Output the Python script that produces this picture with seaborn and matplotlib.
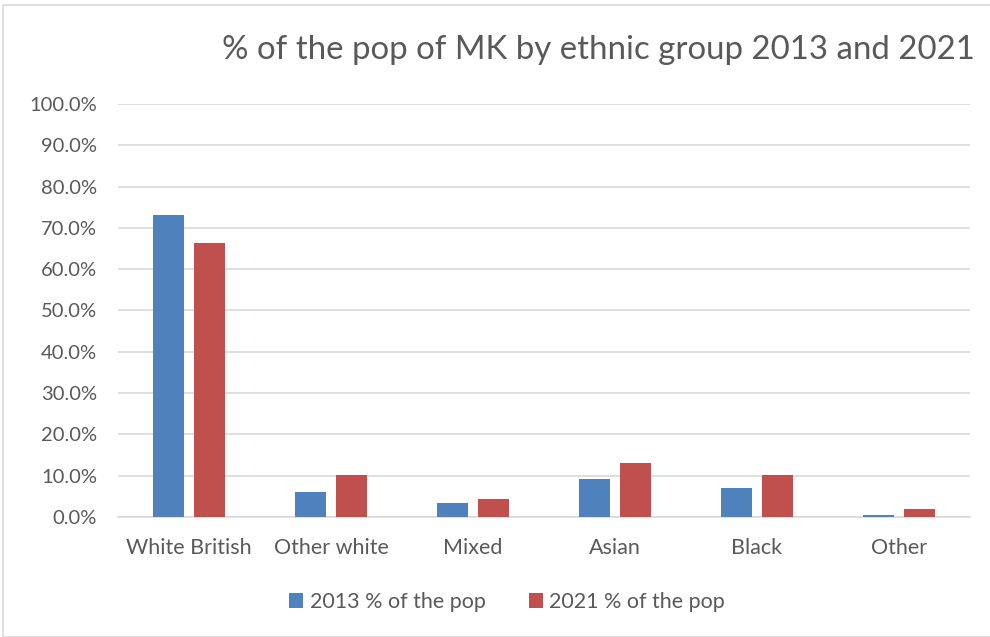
import matplotlib
matplotlib.use("Agg")
import matplotlib.pyplot as plt
from matplotlib.patches import Patch, Rectangle
from matplotlib.ticker import MultipleLocator, FuncFormatter
import pandas as pd
import seaborn as sns

# Ethnic group shares of the Milton Keynes population
groups = ["White British", "Other white", "Mixed", "Asian", "Black", "Other"]
share_2013 = [73.1, 6.0, 3.4, 9.2, 7.0, 0.5]
share_2021 = [66.3, 10.1, 4.3, 13.1, 10.2, 2.0]
series = ["2013 % of the pop", "2021 % of the pop"]
colors = ["#4F81BD", "#C0504D"]

df = pd.DataFrame({
    "group": groups * 2,
    "share": [v / 100 for v in share_2013 + share_2021],
    "series": [series[0]] * len(groups) + [series[1]] * len(groups),
})

sns.set_theme(style="white")
plt.rcParams["font.family"] = ["Lato", "DejaVu Sans"]
text_color = "#595959"

fig = plt.figure(figsize=(9.9, 6.37), dpi=100)
ax = fig.add_axes([118 / 990, 1 - 517 / 637, 852 / 990, (517 - 104) / 637])

sns.barplot(data=df, x="group", y="share", hue="series", order=groups,
            hue_order=series, palette=colors, width=0.577, gap=0.22,
            saturation=1, linewidth=0, legend=False, ax=ax, zorder=3)

ax.set_ylim(0, 1.0)
ax.set_xlim(-0.5, len(groups) - 0.5)
ax.yaxis.set_major_locator(MultipleLocator(0.1))
ax.yaxis.set_major_formatter(FuncFormatter(lambda v, _: f"{v * 100:.1f}%"))
ax.grid(axis="y", color="#d9d9d9", linewidth=1.2, zorder=0)
ax.set_axisbelow(True)
for side in ["top", "right", "left"]:
    ax.spines[side].set_visible(False)
ax.spines["bottom"].set_color("#d9d9d9")
ax.spines["bottom"].set_linewidth(1.2)
ax.set_xlabel("")
ax.set_ylabel("")
ax.tick_params(axis="both", length=0, colors=text_color)
ax.tick_params(axis="y", pad=15, labelsize=14.5)
ax.tick_params(axis="x", pad=15, labelsize=15.5)

fig.text(598 / 990, 1 - 50 / 637, "% of the pop of MK by ethnic group 2013 and 2021",
         ha="center", va="center", fontsize=23.8, color=text_color)

handles = [Patch(facecolor=c, edgecolor="none") for c in colors]
fig.legend(handles, series, loc="center", bbox_to_anchor=(507 / 990, 1 - 602 / 637),
           ncol=2, frameon=False, fontsize=15.5, labelcolor=text_color,
           handlelength=0.65, handleheight=0.65, handletextpad=0.3, columnspacing=2.0)

fig.patches.append(Rectangle((3 / 990, 0), 1, 1 - 5 / 637, transform=fig.transFigure,
                             fill=False, edgecolor="#d9d9d9", linewidth=1.2))

fig.savefig("out.png", dpi=100)
